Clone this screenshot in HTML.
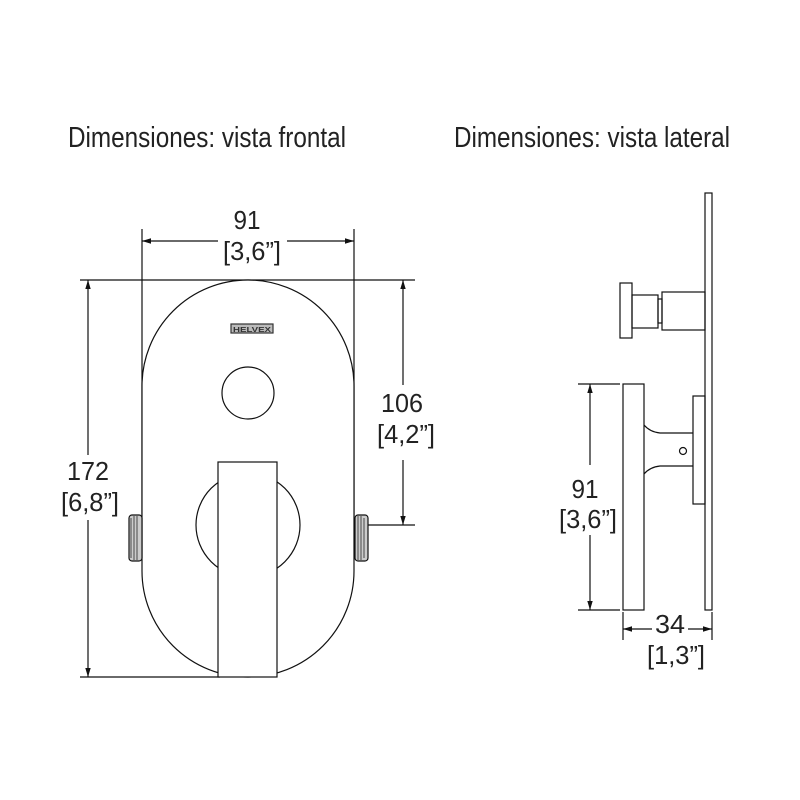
<!DOCTYPE html>
<html><head><meta charset="utf-8"><style>html,body{margin:0;padding:0;background:#fff}svg{display:block}</style></head>
<body>
<svg width="800" height="800" viewBox="0 0 800 800" xmlns="http://www.w3.org/2000/svg" font-family="Liberation Sans, sans-serif" fill="none" stroke="#111" stroke-width="1.2">
<defs>
<marker id="a" viewBox="0 0 10 10" refX="10" refY="5" markerWidth="9" markerHeight="9" orient="auto-start-reverse" markerUnits="userSpaceOnUse"><path d="M0,2 L10,5 L0,8 z" fill="#111" stroke="none"/></marker>
</defs>
<g fill="#222" stroke="none" font-size="29">
<text x="68" y="147" textLength="278" lengthAdjust="spacingAndGlyphs">Dimensiones: vista frontal</text>
<text x="454" y="147" textLength="276" lengthAdjust="spacingAndGlyphs">Dimensiones: vista lateral</text>
</g>
<g fill="#222" stroke="none" font-size="26" text-anchor="middle">
<text x="247" y="229" textLength="27" lengthAdjust="spacingAndGlyphs">91</text>
<text x="252" y="260" textLength="58" lengthAdjust="spacingAndGlyphs">[3,6”]</text>
<text x="88" y="480" textLength="42" lengthAdjust="spacingAndGlyphs">172</text>
<text x="90" y="511" textLength="58" lengthAdjust="spacingAndGlyphs">[6,8”]</text>
<text x="402" y="412" textLength="42" lengthAdjust="spacingAndGlyphs">106</text>
<text x="406" y="443" textLength="58" lengthAdjust="spacingAndGlyphs">[4,2”]</text>
<text x="585" y="498" textLength="27" lengthAdjust="spacingAndGlyphs">91</text>
<text x="588" y="528" textLength="58" lengthAdjust="spacingAndGlyphs">[3,6”]</text>
<text x="670" y="633" textLength="30" lengthAdjust="spacingAndGlyphs">34</text>
<text x="676" y="664" textLength="58" lengthAdjust="spacingAndGlyphs">[1,3”]</text>
</g>
<!-- front view -->
<line x1="142" y1="229" x2="142" y2="520"/>
<line x1="354" y1="229" x2="354" y2="520"/>
<line x1="142" y1="241" x2="218" y2="241" marker-start="url(#a)"/>
<line x1="287" y1="241" x2="354" y2="241" marker-end="url(#a)"/>
<line x1="80" y1="280" x2="415" y2="280"/>
<line x1="80" y1="677" x2="220" y2="677"/>
<line x1="88" y1="280" x2="88" y2="455" marker-start="url(#a)"/>
<line x1="88" y1="520" x2="88" y2="677" marker-end="url(#a)"/>
<line x1="403" y1="280" x2="403" y2="385" marker-start="url(#a)"/>
<line x1="403" y1="460" x2="403" y2="525" marker-end="url(#a)"/>
<line x1="305" y1="525" x2="415" y2="525"/>
<path d="M142,386 A106,106 0 0 1 354,386 L354,571 A106,106 0 0 1 142,571 Z" fill="#fff"/>
<rect x="231" y="324" width="42" height="9" fill="#bbb" stroke="#333"/>
<text x="252" y="332" font-size="7.5" fill="#333" stroke="none" text-anchor="middle" font-weight="bold" textLength="38" lengthAdjust="spacingAndGlyphs">HELVEX</text>
<circle cx="248" cy="393" r="26"/>
<circle cx="248" cy="525" r="52"/>
<rect x="218" y="462" width="59" height="215" fill="#fff"/>
<rect x="129" y="515" width="13" height="46" rx="3" fill="#ccc"/>
<rect x="355" y="515" width="13" height="46" rx="3" fill="#ccc"/>
<g stroke-width="0.7"><line x1="131" y1="518" x2="131" y2="558"/><line x1="134" y1="516" x2="134" y2="560"/><line x1="137" y1="516" x2="137" y2="560"/><line x1="358" y1="516" x2="358" y2="560"/><line x1="361" y1="516" x2="361" y2="560"/><line x1="364" y1="518" x2="364" y2="558"/></g>
<!-- side view -->
<rect x="705" y="193" width="7" height="417"/>
<rect x="620" y="283" width="12" height="55"/>
<rect x="632" y="295" width="26" height="33"/>
<rect x="658" y="299" width="4" height="24"/>
<rect x="662" y="292" width="43" height="38"/>
<rect x="623" y="384" width="21" height="226"/>
<path d="M644,425 Q650,432 660,433 L693,433 M644,474 Q650,467 660,466 L693,466"/>
<rect x="693" y="396" width="12" height="108"/>
<circle cx="683" cy="451" r="3.5"/>
<line x1="578" y1="384" x2="620" y2="384"/>
<line x1="578" y1="610" x2="620" y2="610"/>
<line x1="590" y1="384" x2="590" y2="465" marker-start="url(#a)"/>
<line x1="590" y1="535" x2="590" y2="610" marker-end="url(#a)"/>
<line x1="623" y1="612" x2="623" y2="640"/>
<line x1="712" y1="612" x2="712" y2="640"/>
<line x1="623" y1="629" x2="652" y2="629" marker-start="url(#a)"/>
<line x1="688" y1="629" x2="712" y2="629" marker-end="url(#a)"/>
</svg>
</body></html>
